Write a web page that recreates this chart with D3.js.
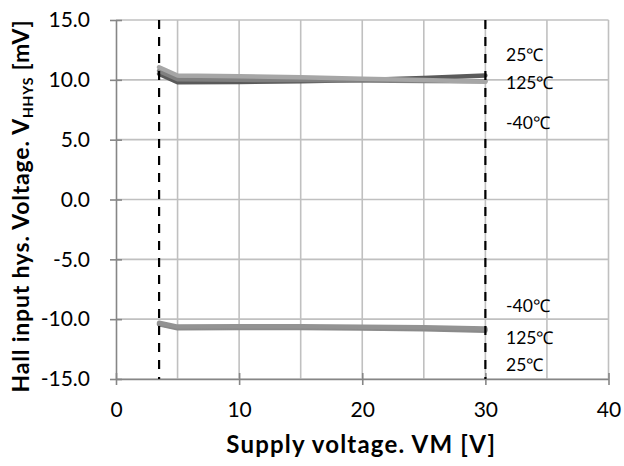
<!DOCTYPE html>
<html><head><meta charset="utf-8">
<script src="https://cdn.jsdelivr.net/npm/d3@7"></script>
<style>body{margin:0;background:#fff}svg{display:block}text{font-family:Lato,"Open Sans",sans-serif}</style>
</head><body><svg id="c" width="624" height="466"></svg>
<script>
const vm = [3.5, 5, 10, 15, 20, 25, 30];
const upper40 = [10.5, 9.8, 9.82, 9.88, 9.98, 10.15, 10.36];
const upper125 = [10.75, 10.05, 10.0, 9.98, 9.95, 9.9, 9.88];
const upper25 = [11.05, 10.36, 10.3, 10.22, 10.1, 9.98, 9.84];
const lower40 = [-10.3, -10.62, -10.6, -10.6, -10.63, -10.68, -10.78];
const lower125 = [-10.38, -10.7, -10.68, -10.68, -10.72, -10.78, -10.88];
const lower25 = [-10.42, -10.76, -10.74, -10.74, -10.78, -10.85, -10.96];
const xTicks = [0, 10, 20, 30, 40];
const yTicks = [-15, -10, -5, 0, 5, 10, 15];
const gridX = [5, 10, 15, 20, 25, 30, 35, 40];
const limitX = [3.5, 30];
const upperLabels = [["25℃", 12.07], ["125℃", 9.77], ["-40℃", 6.43]];
const lowerLabels = [["-40℃", -8.9], ["125℃", -11.57], ["25℃", -13.83]];

const svg = d3.select("#c");
const x = d3.scaleLinear().domain([0, 40]).range([116, 608.5]);
const y = d3.scaleLinear().domain([-15, 15]).range([379, 20]);

// gridlines
svg.append("g").selectAll("line").data(gridX).join("line")
  .attr("x1", d => x(d)).attr("x2", d => x(d)).attr("y1", y(15)).attr("y2", y(-15))
  .attr("stroke", "#c0c0c0").attr("stroke-width", 1.6);
svg.append("g").selectAll("line").data(yTicks).join("line")
  .attr("x1", x(0)).attr("x2", x(40)).attr("y1", d => y(d)).attr("y2", d => y(d))
  .attr("stroke", "#c0c0c0").attr("stroke-width", 1.6);

// axes
const xAxis = svg.append("g").attr("transform", `translate(0,${y(-15)})`)
  .call(d3.axisBottom(x).tickValues(xTicks).tickFormat(d3.format("d")).tickSizeInner(6).tickSizeOuter(0).tickPadding(17));
xAxis.select(".domain").attr("stroke", "#868686").attr("stroke-width", 1.6);
xAxis.selectAll(".tick line").attr("stroke", "#868686").attr("stroke-width", 1.6).attr("y1", -6);
xAxis.selectAll("text").attr("font-size", 21).attr("fill", "#000");

const yAxis = svg.append("g").attr("transform", `translate(${x(0)},0)`)
  .call(d3.axisLeft(y).tickValues(yTicks).tickFormat(d3.format(".1f")).tickSizeInner(6).tickSizeOuter(0).tickPadding(20));
yAxis.select(".domain").attr("stroke", "#868686").attr("stroke-width", 1.6);
yAxis.selectAll(".tick line").attr("stroke", "#868686").attr("stroke-width", 1.6).attr("x2", 6).attr("x1", -6);
yAxis.selectAll("text").attr("font-size", 21).attr("fill", "#000")
  .text(d => d3.format(".1f")(d).replace("−", "-"));

// lines
const line = d3.line().x((d, i) => x(vm[i])).y(d => y(d));
const series = [
  [upper40, "#5a5a5a"], [upper125, "#808080"], [upper25, "#a6a6a6"],
  [lower25, "#8c8c8c"], [lower125, "#8a8a8a"], [lower40, "#939393"]
];
svg.append("g").selectAll("path").data(series).join("path")
  .attr("d", d => line(d[0])).attr("fill", "none").attr("stroke", d => d[1])
  .attr("stroke-width", 4.5).attr("stroke-linejoin", "round").attr("stroke-linecap", "round");

// dashed limits
svg.append("g").selectAll("line").data(limitX).join("line")
  .attr("x1", d => x(d)).attr("x2", d => x(d)).attr("y1", y(15)).attr("y2", y(-15))
  .attr("stroke", "#000").attr("stroke-width", 2.2).attr("stroke-dasharray", "9,8");

// labels
svg.append("g").selectAll("text").data(upperLabels.concat(lowerLabels)).join("text")
  .attr("x", 506).attr("y", d => y(d[1])).attr("dy", "0.35em")
  .attr("font-size", 17.5).attr("fill", "#000").text(d => d[0]);

// titles
svg.append("text").attr("x", (x(0) + x(40)) / 2 - 1).attr("y", 453).attr("text-anchor", "middle")
  .attr("font-size", 24).attr("font-weight", "bold").attr("letter-spacing", 1.2).text("Supply voltage. VM [V]");
const yt = svg.append("text").attr("transform", `translate(29,206) rotate(-90)`)
  .attr("text-anchor", "middle").attr("font-size", 23).attr("font-weight", "bold").attr("letter-spacing", 0.8);
yt.append("tspan").text("Hall input hys. Voltage. V");
yt.append("tspan").attr("font-size", 14).attr("dy", 4).text("HHYS");
yt.append("tspan").attr("dy", -4).text(" [mV]");
</script></body></html>
